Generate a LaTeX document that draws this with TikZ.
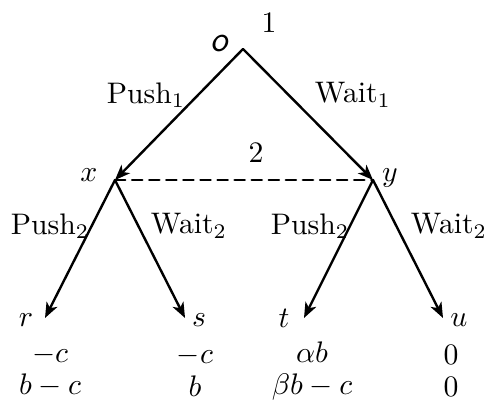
\documentclass[tikz,border=0pt]{standalone}
\usetikzlibrary{arrows.meta}
\begin{document}
\begin{tikzpicture}[line join=round, line cap=round,>={Stealth[length=9pt,width=7pt,inset=2.5pt]}]
		\tikzset{every node/.style={scale=1.74}}
		\tikzset{edge/.style={->,line width=1.4pt}}
		\useasboundingbox (0,0) rectangle (10,8.251);
		% vertices of the tree
		\coordinate (o) at (5,7.243);
		\coordinate (x) at (2.366,4.547);
		\coordinate (y) at (7.675,4.547);
		\coordinate (r) at (0.926,1.708);
		\coordinate (s) at (3.807,1.708);
		\coordinate (t) at (6.255,1.708);
		\coordinate (u) at (9.115,1.708);
		\draw[edge] (o)--(x);
		\draw[edge] (o)--(y);
		\draw[edge] (x)--(r);
		\draw[edge] (x)--(s);
		\draw[edge] (y)--(t);
		\draw[edge] (y)--(u);
		\draw[line width=1.4pt,dash pattern=on 6pt off 4pt] (x)--(y);
		% labels
		\node (lo) at (4.527,7.366) {\textsf{\slshape\large o}};
		\node (p1) at (5.535,7.778) {$1$};
		\node (p2) at (5.267,5.103) {$2$};
		\node (lx) at (1.831,4.650) {$x$};
		\node (ly) at (8.025,4.588) {$y$};
		\node (push1) at (3.004,6.296) {Push$_1$};
		\node (wait1) at (7.263,6.296) {Wait$_1$};
		\node (push2l) at (1.029,3.601) {Push$_2$};
		\node (wait2l) at (3.889,3.601) {Wait$_2$};
		\node (push2r) at (6.379,3.601) {Push$_2$};
		\node (wait2r) at (9.239,3.601) {Wait$_2$};
		\node (lr) at (0.535,1.667) {$r$};
		\node (ls) at (4.095,1.667) {$s$};
		\node (lt) at (5.844,1.708) {$t$};
		\node (lu) at (9.444,1.667) {$u$};
		% payoffs
		\node[align=center] (payr) at (1.03,0.617) {$-c$\\[-1pt]$b-c$};
		\node[align=center] (pays) at (4.012,0.617) {$-c$\\[-1pt]$b$};
		\node[align=center] (payt) at (6.42,0.617) {$\alpha b$\\[-1pt]$\beta b-c$};
		\node[align=center] (payu) at (9.28,0.617) {$0$\\[-1pt]$0$};
	\end{tikzpicture}
\end{document}
